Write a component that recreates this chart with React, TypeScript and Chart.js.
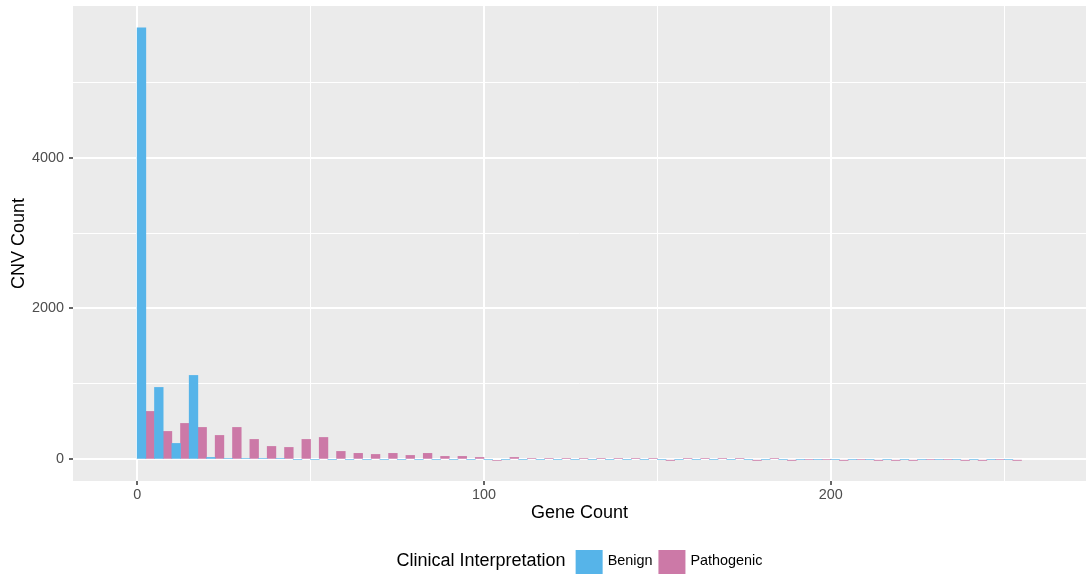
import React, { useEffect, useRef } from 'react';
import { Chart, registerables } from 'chart.js';

Chart.register(...registerables);

// ---- Data (bin width 5) ----
const binStarts = [
  0, 5, 10, 15, 20, 25, 30, 35, 40, 45,
  50, 55, 60, 65, 70, 75, 80, 85, 90, 95,
  100, 105, 110, 115, 120, 125, 130, 135, 140, 145,
  150, 155, 160, 165, 170, 175, 180, 185, 190, 195,
  200, 205, 210, 215, 220, 225, 230, 235, 240, 245,
  250,
];
const binWidth = 5;

const benign = [
  5720, 954, 212, 1113, 26, 13, 13, 13, 13, 0,
  0, 0, 0, 0, 0, 0, 0, 0, 0, 0,
  0, 0, 0, 0, 0, 0, 0, 0, 0, 0,
  0, 0, 0, 0, 0, 0, 0, 0, 0, 0,
  0, 0, 0, 0, 0, 0, 0, 0, 0, 0,
  0,
];

const pathogenic = [
  636, 371, 477, 424, 318, 424, 265, 172, 159, 265,
  291, 106, 80, 66, 80, 53, 80, 40, 40, 26,
  -13, 26, 13, 13, 13, 13, 13, 13, 13, 13,
  -10, 13, 13, 13, 13, -10, 13, -10, 0, 0,
  -10, 0, -10, -10, -10, 0, 0, -10, -10, 0,
  -10,
];

const seriesNames = ['Benign', 'Pathogenic'];
const seriesColors = ['#56B4E9', '#CC79A7'];
const xTickValues = [0, 50, 100, 150, 200, 250];
const xLabelValues = [0, 100, 200];
const yTickValues = [0, 1000, 2000, 3000, 4000, 5000];
const yLabelValues = [0, 2000, 4000];
const xTitle = 'Gene Count';
const yTitle = 'CNV Count';
const legendTitle = 'Clinical Interpretation';

const FONT = '"Liberation Sans", Arial, Helvetica, sans-serif';

const panelBg = {
  id: 'panelBg',
  beforeDraw(chart: any) {
    const { ctx, chartArea } = chart;
    ctx.save();
    ctx.fillStyle = '#EBEBEB';
    ctx.fillRect(chartArea.left, chartArea.top, chartArea.right - chartArea.left, chartArea.bottom - chartArea.top);
    ctx.restore();
  },
};

const ggLegend = {
  id: 'ggLegend',
  afterDraw(chart: any) {
    const { ctx, chartArea } = chart;
    const cx = (chartArea.left + chartArea.right) / 2;
    const H = chart.height;
    ctx.save();
    const titleFont = `18px ${FONT}`;
    const labelFont = `14.4px ${FONT}`;
    ctx.font = titleFont;
    const tw = ctx.measureText(legendTitle).width;
    ctx.font = labelFont;
    const items = chart.data.datasets.map((ds: any) => ({
      text: ds.label as string,
      color: ds.backgroundColor as string,
      w: ctx.measureText(ds.label).width,
    }));
    const box = 27;
    const gapTitle = 10;
    const gapText = 5;
    const gapItem = 6;
    let total = tw + gapTitle;
    items.forEach((it: any, i: number) => {
      total += box + gapText + it.w + (i < items.length - 1 ? gapItem : 0);
    });
    let x = cx - total / 2;
    const midY = H - 12.5;
    const boxTop = H - 24;
    ctx.textBaseline = 'middle';
    ctx.textAlign = 'left';
    ctx.fillStyle = '#000000';
    ctx.font = titleFont;
    ctx.fillText(legendTitle, x, midY);
    x += tw + gapTitle;
    ctx.font = labelFont;
    items.forEach((it: any) => {
      ctx.fillStyle = it.color;
      ctx.fillRect(x, boxTop, box, box);
      x += box + gapText;
      ctx.fillStyle = '#000000';
      ctx.fillText(it.text, x, midY);
      x += it.w + gapItem;
    });
    ctx.restore();
  },
};

export default function App() {
  const canvasRef = useRef<HTMLCanvasElement | null>(null);

  useEffect(() => {
    document.body.style.margin = '0';
    const canvas = canvasRef.current;
    if (!canvas) return;
    Chart.defaults.font.family = FONT;

    const mk = (vals: number[]) => binStarts.map((s, i) => ({ x: s + binWidth / 2, y: vals[i] }));

    const chart = new Chart(canvas, {
      type: 'bar',
      data: {
        datasets: [
          {
            label: seriesNames[0],
            data: mk(benign),
            backgroundColor: seriesColors[0],
            borderWidth: 0,
            categoryPercentage: 1,
            barPercentage: 1,
          },
          {
            label: seriesNames[1],
            data: mk(pathogenic),
            backgroundColor: seriesColors[1],
            borderWidth: 0,
            categoryPercentage: 1,
            barPercentage: 1,
          },
        ],
      } as any,
      options: {
        responsive: false,
        animation: false,
        events: [],
        devicePixelRatio: 1,
        layout: { padding: { top: 6, right: 0, bottom: 50, left: 0 } },
        plugins: {
          legend: { display: false },
          tooltip: { enabled: false },
        },
        scales: {
          x: {
            type: 'linear',
            min: -18.5,
            max: 273.6,
            offset: false,
            afterBuildTicks: (s: any) => {
              s.ticks = xTickValues.map((v) => ({ value: v }));
            },
            afterFit: (s: any) => {
              s.height = 43;
              s.paddingLeft = 0;
              s.paddingRight = 0;
              s.paddingTop = 0;
              s.paddingBottom = 0;
            },
            ticks: {
              callback: (v: any) => (xLabelValues.includes(Number(v)) ? String(v) : ''),
              color: '#4D4D4D',
              font: { size: 14.4, family: FONT },
              padding: 1,
              maxRotation: 0,
              autoSkip: false,
            },
            grid: {
              offset: false,
              color: '#FFFFFF',
              lineWidth: (c: any) => (c.tick && xLabelValues.includes(c.tick.value) ? 2 : 1),
              tickLength: 4,
              tickColor: (c: any) => (c.tick && xLabelValues.includes(c.tick.value) ? '#333333' : 'rgba(0,0,0,0)'),
              tickWidth: 1.5,
              drawOnChartArea: true,
            },
            border: { display: false },
            title: {
              display: true,
              text: xTitle,
              color: '#000000',
              font: { size: 18, family: FONT },
              padding: { top: 0, bottom: 0 },
            },
          },
          y: {
            type: 'linear',
            min: -286,
            max: 6008,
            afterBuildTicks: (s: any) => {
              s.ticks = yTickValues.map((v) => ({ value: v }));
            },
            afterFit: (s: any) => {
              s.width = 73;
              s.paddingLeft = 0;
              s.paddingRight = 0;
              s.paddingTop = 0;
              s.paddingBottom = 0;
            },
            ticks: {
              callback: (v: any) => (yLabelValues.includes(Number(v)) ? String(v) : ''),
              color: '#4D4D4D',
              font: { size: 14.4, family: FONT },
              padding: 5,
              autoSkip: false,
            },
            grid: {
              offset: false,
              color: '#FFFFFF',
              lineWidth: (c: any) => (c.tick && yLabelValues.includes(c.tick.value) ? 2 : 1),
              tickLength: 4,
              tickColor: (c: any) => (c.tick && yLabelValues.includes(c.tick.value) ? '#333333' : 'rgba(0,0,0,0)'),
              tickWidth: 1.5,
              drawOnChartArea: true,
            },
            border: { display: false },
            title: {
              display: true,
              text: yTitle,
              color: '#000000',
              font: { size: 18, family: FONT },
              padding: { top: 8, bottom: 0 },
            },
          },
        },
      } as any,
      plugins: [panelBg, ggLegend],
    });

    return () => {
      chart.destroy();
    };
  }, []);

  return (
    <div style={{ width: 1086, height: 574, position: 'relative' }}>
      <canvas ref={canvasRef} width={1086} height={574} style={{ display: 'block', width: 1086, height: 574 }} />
    </div>
  );
}
